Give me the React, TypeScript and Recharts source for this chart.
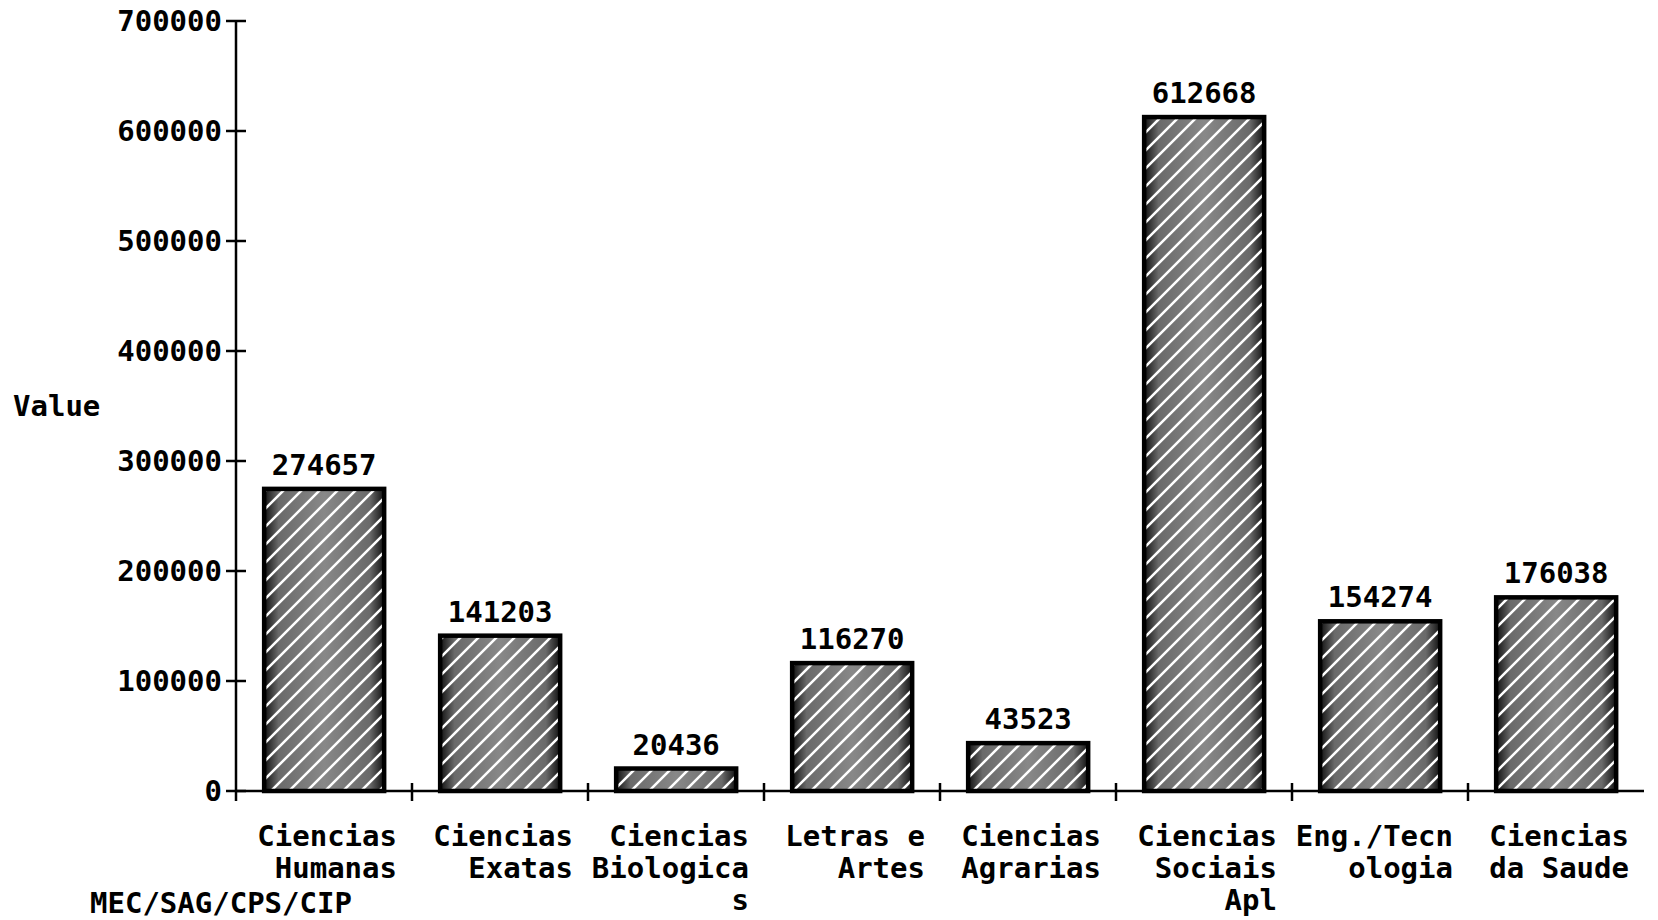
import { BarChart, Bar, XAxis, YAxis, LabelList, Label } from "recharts";

const categories = [
  "Ciencias Humanas",
  "Ciencias Exatas",
  "Ciencias Biologicas",
  "Letras e Artes",
  "Ciencias Agrarias",
  "Ciencias Sociais Apl",
  "Eng./Tecnologia",
  "Ciencias da Saude",
];

// the printout wraps names at 9 characters
const categoryLines = [
  ["Ciencias", "Humanas"],
  ["Ciencias", "Exatas"],
  ["Ciencias", "Biologica", "s"],
  ["Letras e", "Artes"],
  ["Ciencias", "Agrarias"],
  ["Ciencias", "Sociais", "Apl"],
  ["Eng./Tecn", "ologia"],
  ["Ciencias", "da Saude"],
];

const values = [274657, 141203, 20436, 116270, 43523, 612668, 154274, 176038];

const yTicks = [0, 100000, 200000, 300000, 400000, 500000, 600000, 700000];

const FONT = "'DejaVu Sans Mono', 'Liberation Mono', monospace";

const data = categories.map((category, i) => ({ category, value: values[i] }));

function YTick(props: any) {
  const { x, y, payload } = props;
  return (
    <g>
      <line x1={x + 6} x2={x + 26} y1={y} y2={y} stroke="#000" strokeWidth={2.5} />
      <text
        x={x + 2}
        y={y}
        dy={10}
        textAnchor="end"
        fontFamily={FONT}
        fontWeight="bold"
        fontSize={29}
        fill="#000"
      >
        {payload.value}
      </text>
    </g>
  );
}

function XTick(props: any) {
  const { x, y, payload, index, visibleTicksCount } = props;
  const half = payload.offset ?? 0;
  const right = x + half;
  const lines = categoryLines[index] ?? [payload.value];
  return (
    <g>
      {index === 0 && (
        <line x1={x - half} x2={x - half} y1={y} y2={y + 10} stroke="#000" strokeWidth={2.5} />
      )}
      {index < visibleTicksCount - 1 && (
        <line x1={right} x2={right} y1={y - 8} y2={y + 10} stroke="#000" strokeWidth={2.5} />
      )}
      <text textAnchor="end" fontFamily={FONT} fontWeight="bold" fontSize={29} fill="#000">
        {lines.map((t: string, i: number) => (
          <tspan key={i} x={right - 15} y={y + 55 + i * 32}>
            {t}
          </tspan>
        ))}
      </text>
    </g>
  );
}

function HatchBar(props: any) {
  const { x, y, width, height } = props;
  if (!height || height <= 0) return null;
  return (
    <g>
      <rect x={x} y={y} width={width} height={height} fill="url(#shade)" />
      <rect x={x} y={y} width={width} height={height} fill="url(#hatch)" />
      <rect x={x} y={y} width={width} height={height} fill="none" stroke="#000" strokeWidth={4.5} />
    </g>
  );
}

export default function App() {
  return (
    <div
      style={{
        position: "absolute",
        left: 0,
        top: 0,
        width: 1658,
        height: 920,
        background: "#fff",
      }}
    >
      <BarChart
        width={1658}
        height={920}
        data={data}
        margin={{ top: 21, right: 14, left: 0, bottom: 0 }}
        barCategoryGap="16%"
      >
        <defs>
          <linearGradient id="shade" x1="0" y1="0" x2="1" y2="0">
            <stop offset="0" stopColor="#111" />
            <stop offset="0.12" stopColor="#6a6a6a" />
            <stop offset="0.5" stopColor="#888" />
            <stop offset="0.88" stopColor="#6a6a6a" />
            <stop offset="1" stopColor="#111" />
          </linearGradient>
          <pattern id="hatch" patternUnits="userSpaceOnUse" width={18} height={18}>
            <path
              d="M0,18 L18,0 M-4.5,4.5 L4.5,-4.5 M13.5,22.5 L22.5,13.5"
              stroke="#fff"
              strokeWidth={2.5}
            />
          </pattern>
        </defs>
        <XAxis
          dataKey="category"
          interval={0}
          tickLine={false}
          tickSize={0}
          tickMargin={0}
          height={129}
          axisLine={{ stroke: "#000", strokeWidth: 2.5 }}
          tick={XTick}
        />
        <YAxis
          width={236}
          domain={[0, 700000]}
          ticks={yTicks}
          interval={0}
          tickLine={false}
          tickSize={10}
          tickMargin={6}
          axisLine={{ stroke: "#000", strokeWidth: 2.5 }}
          tick={YTick}
        >
          <Label
            value="Value"
            position="insideLeft"
            offset={13}
            fontFamily={FONT}
            fontWeight="bold"
            fontSize={29}
            fill="#000"
          />
        </YAxis>
        <Bar dataKey="value" shape={HatchBar} isAnimationActive={false}>
          <LabelList
            dataKey="value"
            position="top"
            offset={14}
            fontFamily={FONT}
            fontWeight="bold"
            fontSize={29}
            fill="#000"
          />
        </Bar>
      </BarChart>
      <div
        style={{
          position: "absolute",
          left: 90,
          top: 889,
          fontFamily: FONT,
          fontWeight: "bold",
          fontSize: 29,
          lineHeight: "29px",
          color: "#000",
        }}
      >
        MEC/SAG/CPS/CIP
      </div>
    </div>
  );
}
